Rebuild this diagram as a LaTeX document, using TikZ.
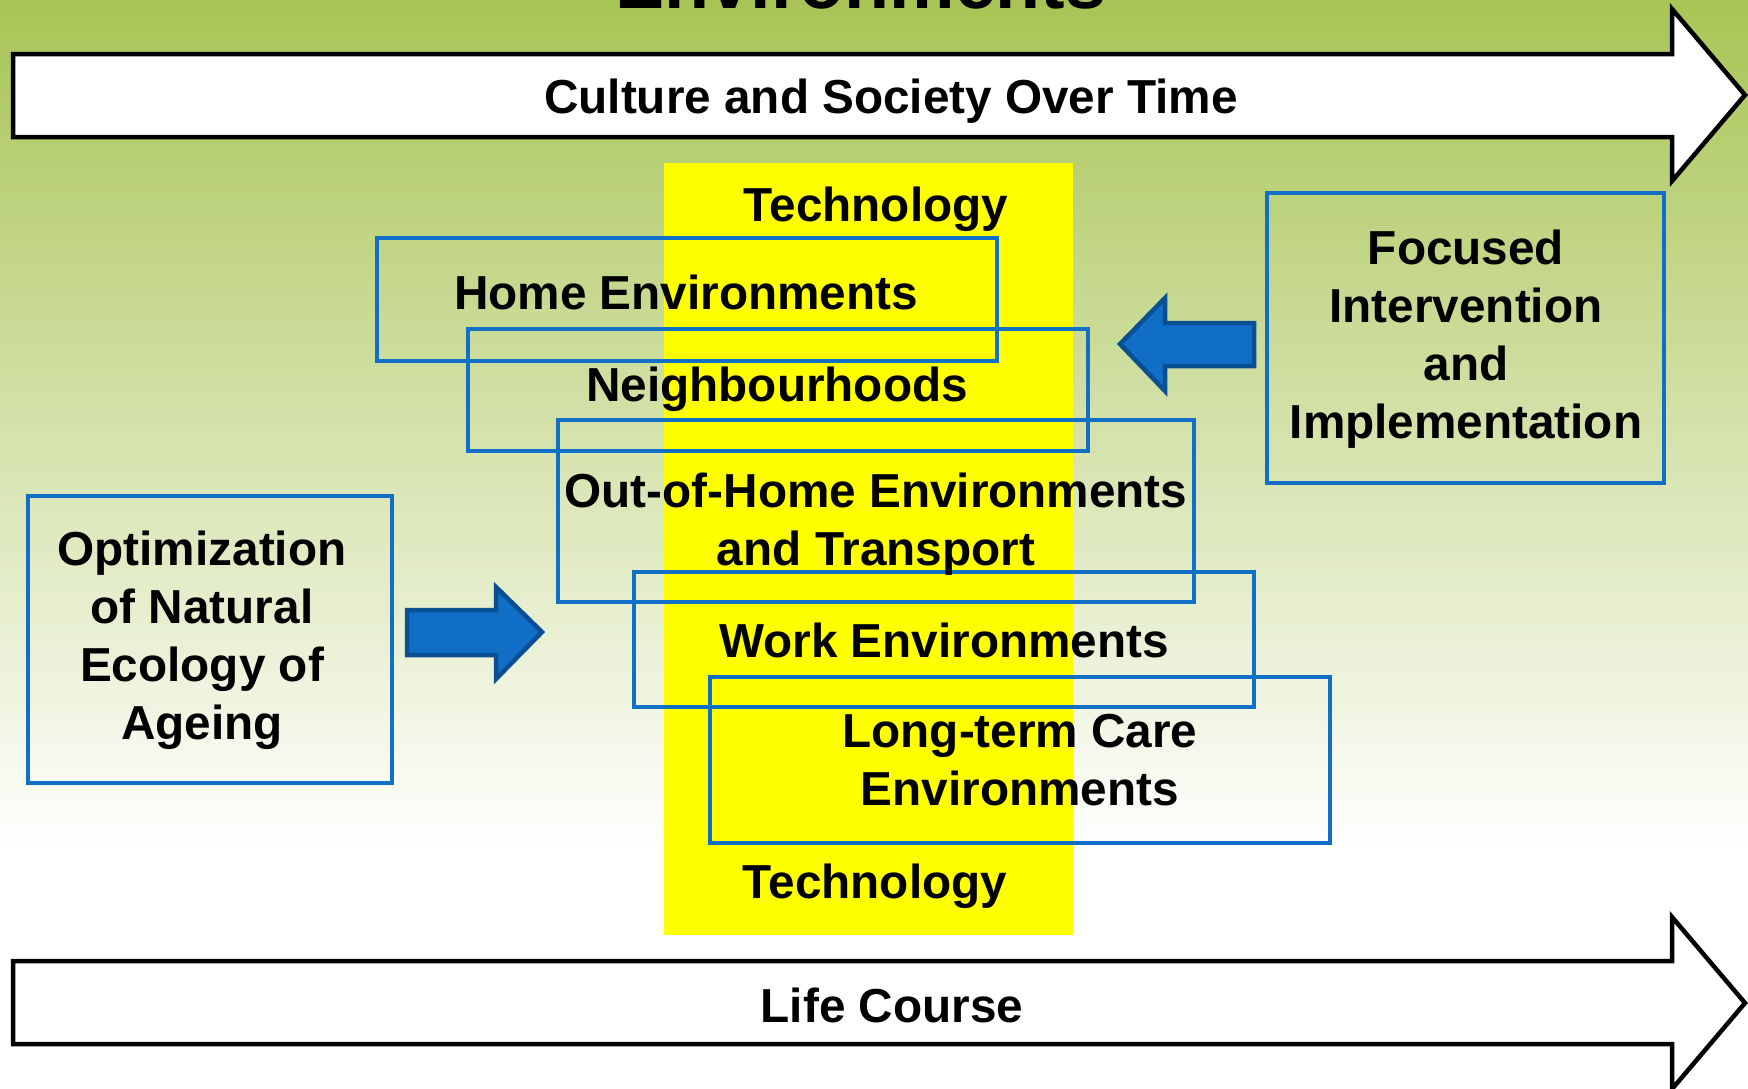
\documentclass[tikz,border=0pt]{standalone}
\usepackage{fontspec}
\setmainfont{Liberation Sans}
\definecolor{bgtop}{RGB}{168,196,84}
\definecolor{bgmid}{RGB}{225,234,188}
\definecolor{boxblue}{RGB}{17,112,198}
\definecolor{arrowblue}{RGB}{16,110,198}
\definecolor{arrowedge}{RGB}{10,79,146}
\definecolor{techyellow}{RGB}{255,255,0}
\begin{document}
\begin{tikzpicture}[x=1pt,y=-1pt,
  lbl/.style={font=\bfseries\fontsize{47.7}{58}\selectfont, inner sep=0pt, anchor=base, align=center},
  envbox/.style={draw=boxblue, line width=4pt, inner sep=0pt},
  bigarrow/.style={draw=black, fill=white, line width=4.5pt, line join=miter},
  bluearrow/.style={draw=arrowedge, fill=arrowblue, line width=4.5pt, line join=miter}]
\useasboundingbox (0,0) rectangle (1748,1088);
% background
\fill[white] (0,0) rectangle (1748,1088);
\shade[top color=bgtop, middle color=bgmid, bottom color=white] (0,-2) rectangle (1748,850);
% title (cut off at top)
\node[font=\bfseries\fontsize{73.6}{80}\selectfont, inner sep=0pt, anchor=base] (title) at (861,8) {Environments};
% big arrows
\draw[bigarrow] (13,54) -- (1672,54) -- (1672,9) -- (1745,95) -- (1672,181) -- (1672,137) -- (13,137) -- cycle;
\node[lbl] (culture) at (891,113) {Culture and Society Over Time};
\draw[bigarrow] (13,961) -- (1672,961) -- (1672,917) -- (1745,1003) -- (1672,1089) -- (1672,1044) -- (13,1044) -- cycle;
\node[lbl] (life) at (892,1022) {Life Course};
% technology band
\fill[techyellow] (664,163) rectangle (1073,935);
% environment boxes
\node[envbox, minimum width=620, minimum height=123] (homebox) at (687,299.5) {};
\node[envbox, minimum width=620, minimum height=122] (neighbox) at (778,390) {};
\node[envbox, minimum width=636, minimum height=182] (outbox) at (876,511) {};
\node[envbox, minimum width=620, minimum height=135] (workbox) at (944,639.5) {};
\node[envbox, minimum width=620, minimum height=166] (ltcbox) at (1020,760) {};
\node[envbox, minimum width=397, minimum height=290] (focbox) at (1465.5,338) {};
\node[envbox, minimum width=364, minimum height=287] (optbox) at (210,639.5) {};
% texts (base anchor = baseline of the last line)
\node[lbl] (tech1) at (876,221) {Technology};
\node[lbl] (tech2) at (875,898) {Technology};
\node[lbl] (home) at (686,309) {Home Environments};
\node[lbl] (neigh) at (777,401) {Neighbourhoods};
\node[lbl] (out) at (876,565) {Out-of-Home Environments\\and Transport};
\node[lbl] (work) at (944,657) {Work Environments};
\node[lbl] (ltc) at (1020,805) {Long-term Care\\Environments};
\node[lbl] (foc) at (1466,438) {Focused\\Intervention\\and\\Implementation};
\node[lbl] (opt) at (202,739) {Optimization\\of Natural\\Ecology of\\Ageing};
% blue block arrows
\draw[bluearrow] (407,610) -- (496,610) -- (496,587) -- (542,632) -- (496,679) -- (496,655) -- (407,655) -- cycle;
\draw[bluearrow] (1254,323) -- (1165,323) -- (1165,298) -- (1120,344) -- (1165,391) -- (1165,366) -- (1254,366) -- cycle;
\end{tikzpicture}
\end{document}
